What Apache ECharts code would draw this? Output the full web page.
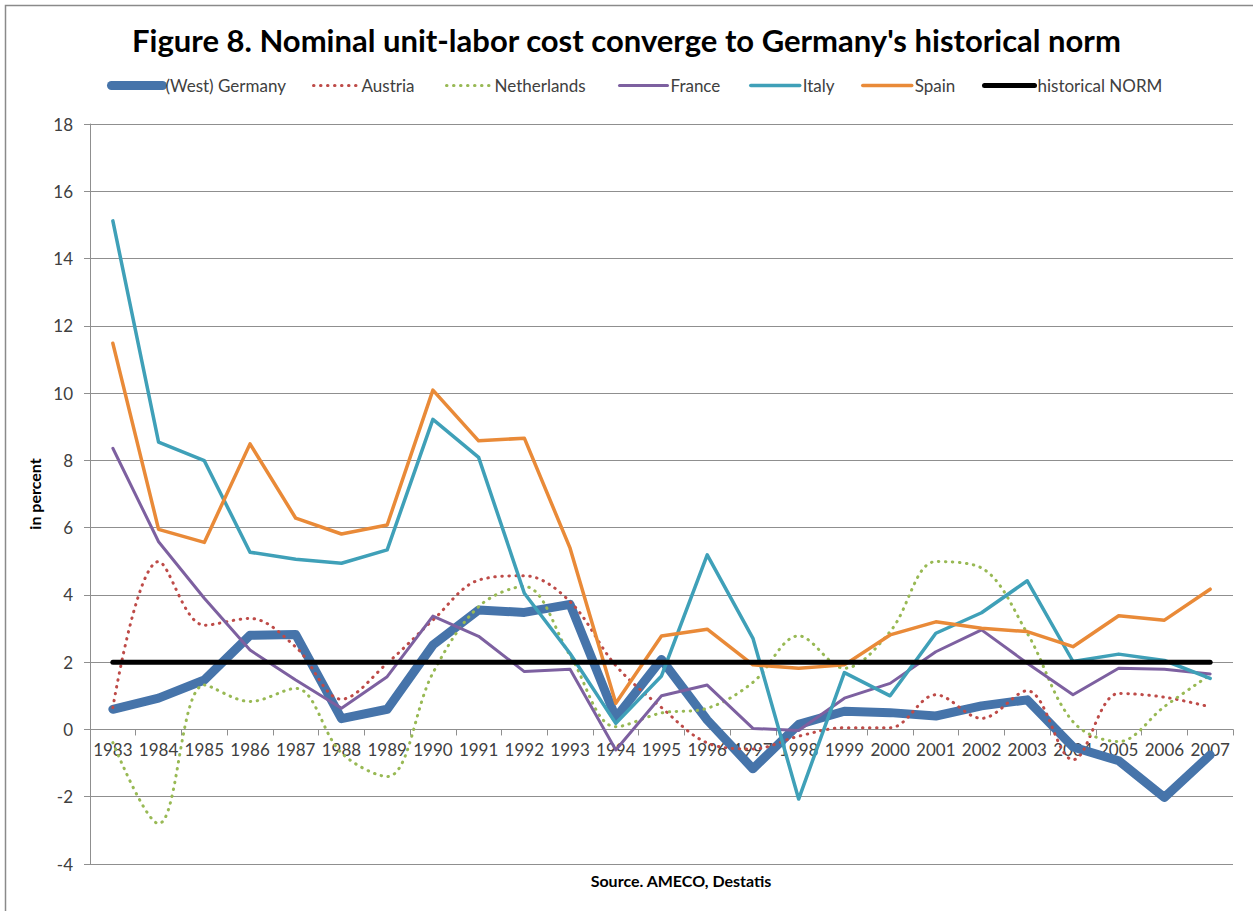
<!DOCTYPE html>
<html><head><meta charset="utf-8">
<script src="https://cdn.jsdelivr.net/npm/echarts/dist/echarts.min.js"></script>
<style>html,body{margin:0;padding:0;background:#fff}#c{width:1253px;height:911px}</style>
</head><body><div id="c"></div>
<script>
const years = ['1983','1984','1985','1986','1987','1988','1989','1990','1991','1992','1993','1994','1995','1996','1997','1998','1999','2000','2001','2002','2003','2004','2005','2006','2007'];
const germany = [0.6, 0.93, 1.47, 2.8, 2.82, 0.32, 0.6, 2.51, 3.55, 3.48, 3.72, 0.35, 2.08, 0.28, -1.17, 0.15, 0.54, 0.5, 0.4, 0.7, 0.88, -0.52, -0.93, -2.02, -0.76];
const austria = [0.65, 4.99, 3.1, 3.3, 2.45, 0.9, 1.97, 3.25, 4.44, 4.57, 3.8, 1.9, 0.65, -0.4, -0.58, -0.2, 0.05, 0.05, 1.03, 0.33, 1.15, -0.9, 1.07, 0.96, 0.67];
const netherlands = [-0.39, -2.8, 1.32, 0.83, 1.22, -0.7, -1.4, 1.68, 3.65, 4.25, 2.2, 0.08, 0.49, 0.63, 1.4, 2.78, 1.82, 2.91, 4.99, 4.8, 2.86, 0.23, -0.36, 0.68, 1.62];
const france = [8.36, 5.58, 3.9, 2.36, 1.47, 0.63, 1.57, 3.37, 2.77, 1.72, 1.79, -0.61, 1.0, 1.32, 0.03, -0.03, 0.93, 1.37, 2.31, 2.96, 1.97, 1.03, 1.82, 1.79, 1.65];
const italy = [15.12, 8.54, 7.99, 5.27, 5.06, 4.94, 5.34, 9.22, 8.09, 4.05, 2.26, 0.18, 1.59, 5.19, 2.71, -2.07, 1.69, 1.0, 2.86, 3.47, 4.42, 2.02, 2.24, 2.05, 1.52];
const spain = [11.48, 5.95, 5.56, 8.49, 6.28, 5.81, 6.08, 10.09, 8.58, 8.66, 5.39, 0.78, 2.78, 2.98, 1.92, 1.82, 1.92, 2.81, 3.2, 3.01, 2.91, 2.46, 3.38, 3.25, 4.17];
const norm = [2, 2, 2, 2, 2, 2, 2, 2, 2, 2, 2, 2, 2, 2, 2, 2, 2, 2, 2, 2, 2, 2, 2, 2, 2];
const seriesNames = ['(West) Germany', 'Austria', 'Netherlands', 'France', 'Italy', 'Spain', 'historical NORM'];
const yMin = -4, yMax = 18, yStep = 2;

const FONT = 'Lato';
const TXT = '#404040';
const GRID = '#8f8f8f';
const GRID_TOP = 124, GRID_BOTTOM = 47, H = 911;

const chart = echarts.init(document.getElementById('c'), null, {renderer: 'svg'});

const styles = [
  {color: '#4674AA', width: 9, dotted: false},
  {color: '#BE4B48', width: 3, dotted: true},
  {color: '#98B954', width: 3, dotted: true},
  {color: '#7D60A0', width: 3, dotted: false},
  {color: '#3FA0B8', width: 3.5, dotted: false},
  {color: '#E98A38', width: 3.5, dotted: false},
  {color: '#000000', width: 5, dotted: false}
];
const lineStyleOf = s => ({color: s.color, width: s.width, cap: 'round', join: 'round', type: s.dotted ? [0.5, 6.5] : 'solid'});

const legendSlots = [[107, 51], [312, 45], [445, 45], [618, 48], [749, 49], [861, 49], [982, 50]];
const legends = seriesNames.map((n, i) => ({
  data: [n], left: legendSlots[i][0], top: 77, padding: 0,
  itemWidth: legendSlots[i][1], itemHeight: 20, itemGap: 0,
  itemStyle: {opacity: 0},
  lineStyle: lineStyleOf(styles[i]),
  textStyle: {fontFamily: FONT, fontSize: 17, color: TXT, padding: [0, 0, 0, -2]},
  selectedMode: false
}));

const series = seriesNames.map((n, i) => ({
  name: n, type: 'line', data: [germany, austria, netherlands, france, italy, spain, norm][i],
  symbol: 'none', smooth: styles[i].dotted ? 0.35 : false,
  lineStyle: lineStyleOf(styles[i]), itemStyle: {color: styles[i].color},
  emphasis: {disabled: true}, animation: false
}));

// pixel offset that places the category axis on the value 0
const plotH = H - GRID_TOP - GRID_BOTTOM;
const zeroOffset = -plotH * (0 - yMin) / (yMax - yMin);

chart.setOption({
  animation: false,
  backgroundColor: '#fff',
  title: {
    text: "Figure 8. Nominal unit-labor cost converge to Germany's historical norm",
    left: 'center', top: 19,
    textStyle: {fontFamily: FONT, fontWeight: 'bold', fontSize: 31, color: '#000'}
  },
  legend: legends,
  grid: {left: 90, right: 20, top: GRID_TOP, bottom: GRID_BOTTOM, containLabel: false},
  xAxis: {
    type: 'category', data: years, boundaryGap: true, position: 'bottom', offset: zeroOffset,
    axisLine: {show: true, onZero: false, lineStyle: {color: GRID, width: 1}},
    axisTick: {show: true, length: 6, alignWithLabel: false, interval: 0, lineStyle: {color: GRID}},
    axisLabel: {interval: 0, margin: 12, fontFamily: FONT, fontSize: 17, color: TXT, hideOverlap: false},
    splitLine: {show: false}
  },
  yAxis: {
    type: 'value', min: yMin, max: yMax, interval: yStep,
    name: 'in percent', nameLocation: 'middle', nameRotate: 90, nameGap: 44,
    nameTextStyle: {fontFamily: FONT, fontWeight: 'bold', fontSize: 16, color: '#000'},
    axisLine: {show: true, lineStyle: {color: GRID, width: 1}},
    axisTick: {show: true, length: 6, inside: false, lineStyle: {color: GRID}},
    axisLabel: {margin: 17, fontFamily: FONT, fontSize: 17, color: TXT},
    splitLine: {show: true, lineStyle: {color: GRID, width: 1}}
  },
  graphic: [
    {type: 'rect', left: 3, top: 3, z: -10, silent: true,
     shape: {width: 1300, height: 1000}, style: {fill: 'none', stroke: '#8a8a8a', lineWidth: 1.5}},
    {type: 'text', x: 681, y: 880, silent: true,
     style: {text: 'Source. AMECO, Destatis', fontFamily: FONT, fontWeight: 'bold', fontSize: 16, fill: '#000', textAlign: 'center', textVerticalAlign: 'middle'}}
  ],
  series: series
});
</script>
</body></html>
